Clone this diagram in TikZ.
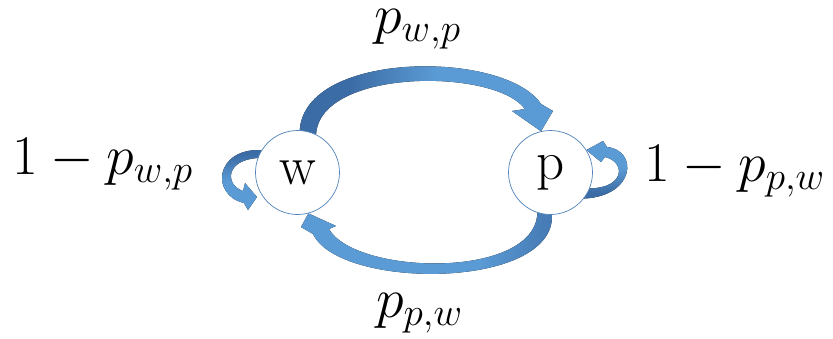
\RequirePackage{fix-cm}
\documentclass[tikz,border=0pt]{standalone}
\usetikzlibrary{backgrounds}
\definecolor{lightb}{RGB}{91,155,213}
\definecolor{darkb}{RGB}{60,108,165}
\definecolor{circb}{RGB}{80,130,185}
\pgfdeclarehorizontalshading{topsh}{100bp}{color(0bp)=(darkb); color(35bp)=(darkb); color(52bp)=(lightb); color(100bp)=(lightb)}
\pgfdeclarehorizontalshading{botsh}{100bp}{color(0bp)=(darkb); color(20bp)=(darkb); color(40bp)=(lightb); color(100bp)=(lightb)}
\pgfdeclarehorizontalshading{loopsh}{100bp}{color(0bp)=(darkb); color(30bp)=(darkb); color(52bp)=(lightb); color(100bp)=(lightb)}
\tikzset{
  statenode/.style={circle, draw=circb, line width=0.7pt, fill=white, minimum size=84pt, inner sep=0pt, font=\fontsize{55}{60}\selectfont},
  lab/.style={inner sep=0pt, anchor=base west, font=\fontsize{56}{62}\selectfont},
}
\begin{document}
\begin{tikzpicture}[x=1pt, y=-1pt]
\useasboundingbox (0,0) rectangle (833,338);
\node[statenode] (w) at (297.5,172.5) {w};
\node[statenode] (p) at (550.5,172.5) {p};
\node[lab] (ltop) at (374,33) {$p_{w,p}$};
\node[lab] (lbot) at (376,317) {$p_{p,w}$};
\node[lab] (lleft) at (12,174) {$1-p_{w,p}$};
\node[lab] (lright) at (644,181) {$1-p_{p,w}$};
\begin{scope}[on background layer]
  % top arrow w -> p
  \fill[shading=topsh] (w.87) .. controls (305,50) and (505,50) .. (541,104)
     -- (553,111) -- (p.103) -- (512,111) -- (525,109)
     .. controls (495,68) and (320,68) .. (w.64) -- cycle;
  % bottom arrow p -> w
  \fill[shading=botsh, shading angle=180] (p.-88) .. controls (555,290) and (340,290) .. (313,234)
     -- (301,227) -- (w.-75) -- (336,226) -- (329,229)
     .. controls (355,275) and (535,280) .. (p.-108) -- cycle;
  % self loop at w
  \fill[shading=loopsh, shading angle=-90] (w.148) .. controls (215,148) and (210,195) .. (244,203)
     -- (248,210) -- (257,197) -- (245,183) -- (243,191)
     .. controls (225,185) and (225,160) .. (w.160) -- cycle;
  % self loop at p
  \fill[shading=loopsh, shading angle=90] (p.-38) .. controls (636,196) and (638,150) .. (607,147)
     -- (603,141) -- (p.32) -- (601,162) -- (605,157)
     .. controls (626,162) and (625,188) .. (p.-22) -- cycle;
\end{scope}
\end{tikzpicture}
\end{document}
